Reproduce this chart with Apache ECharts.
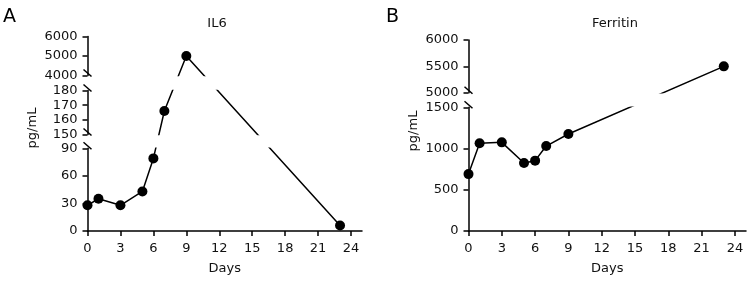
<!DOCTYPE html>
<html>
<head>
<meta charset="utf-8">
<script src="https://cdn.jsdelivr.net/npm/echarts@6/dist/echarts.min.js"></script>
<style>
  html, body { margin: 0; padding: 0; background: #fff; }
  #chart { width: 749px; height: 281px; }
</style>
</head>
<body>
<div id="chart"></div>
<script>
const chart = echarts.init(document.getElementById("chart"));

const FONT = '"DejaVu Sans", sans-serif';

// ==========================
// DATA
// ==========================

const days = [0, 1, 3, 5, 6, 7, 9, 23];
const il6 = [28, 35, 28, 43, 79, 166, 5000, 6];
const ferritin = [690, 1065, 1075, 825, 853, 1030, 1176, 5500];

const dayTicks = [0, 3, 6, 9, 12, 15, 18, 21, 24];

// broken y axis pieces, bottom to top: [min, max, interval]
const il6Pieces = [[0, 90, 30], [150, 180, 10], [4000, 6000, 1000]];
const ferritinPieces = [[0, 1500, 500], [5000, 6000, 500]];

// ==========================
// LAYOUT (pixels)
// ==========================

const panels = [
  {
    letter: "A", title: "IL6", values: il6, pieces: il6Pieces,
    left: 87.5, width: 274.5,
    bands: [[148.3, 231], [90.5, 134.5], [36.5, 75.5]],   // [top, bottom]
    titleX: 217, nameX: 33, nameY: 128, letterX: 3
  },
  {
    letter: "B", title: "Ferritin", values: ferritin, pieces: ferritinPieces,
    left: 468.5, width: 277.5,
    bands: [[107.3, 231], [40, 92.7]],
    titleX: 615, nameX: 414, nameY: 131, letterX: 386
  }
];

// value -> screen y, through the piece that holds it
function valueToY(v, p) {
  let k = p.pieces.findIndex(([lo, hi]) => v >= lo && v <= hi);
  if (k < 0) k = 0;
  const [lo, hi] = p.pieces[k];
  const [top, bottom] = p.bands[k];
  return bottom - (v - lo) / (hi - lo) * (bottom - top);
}

// screen y -> value on piece k's own scale (can fall outside, gets clipped)
function yToPiece(y, p, k) {
  const [lo, hi] = p.pieces[k];
  const [top, bottom] = p.bands[k];
  return lo + (bottom - y) / (bottom - top) * (hi - lo);
}

// ==========================
// BUILD OPTION
// ==========================

const grids = [], xAxes = [], yAxes = [], series = [], graphics = [];
const axisStyle = { color: "#000", width: 1.5 };

panels.forEach(p => {
  p.gridStart = grids.length;
  p.pieces.forEach(([lo, hi, step], k) => {
    const gi = grids.length;
    const [top, bottom] = p.bands[k];
    grids.push({
      left: p.left, top: top, width: p.width, height: bottom - top,
      containLabel: false, outerBoundsMode: "none"
    });

    xAxes.push({
      gridIndex: gi,
      type: "value",
      min: 0,
      max: 25,
      show: k === 0,
      name: k === 0 ? "Days" : "",
      nameLocation: "middle",
      nameGap: 31,
      nameTextStyle: { fontFamily: FONT, fontSize: 13, color: "#111" },
      axisLine: { lineStyle: axisStyle },
      axisTick: { length: 5, lineStyle: axisStyle, customValues: dayTicks },
      axisLabel: { fontFamily: FONT, fontSize: 13, color: "#111", margin: 11, customValues: dayTicks },
      splitLine: { show: false }
    });

    yAxes.push({
      gridIndex: gi,
      type: "value",
      min: lo,
      max: hi,
      interval: step,
      axisLine: { show: true, lineStyle: axisStyle },
      axisTick: { show: true, length: 5, lineStyle: axisStyle },
      axisLabel: {
        fontFamily: FONT, fontSize: 13, color: "#111", margin: 10,
        formatter: v => String(v)
      },
      splitLine: { show: false }
    });

    series.push({
      type: "line",
      xAxisIndex: gi,
      yAxisIndex: gi,
      clip: true,
      symbol: "circle",
      symbolSize: 10,
      itemStyle: { color: "#000" },
      lineStyle: { color: "#000", width: 1.5 },
      data: days.map((d, i) => [d, yToPiece(valueToY(p.values[i], p), p, k)])
    });
  });

  graphics.push(
    {
      type: "text", x: p.letterX, y: 8,
      style: { text: p.letter, font: `19px ${FONT}`, fill: "#000" }
    },
    {
      type: "text", x: p.titleX, y: 24,
      style: { text: p.title, font: `13px ${FONT}`, fill: "#111", textAlign: "center", textVerticalAlign: "middle" }
    },
    {
      type: "text", x: p.nameX, y: p.nameY, rotation: Math.PI / 2,
      style: { text: "pg/mL", font: `13px ${FONT}`, fill: "#111", textAlign: "center", textVerticalAlign: "middle" }
    }
  );
});

chart.setOption({
  animation: false,
  grid: grids,
  xAxis: xAxes,
  yAxis: yAxes,
  series: series,
  graphic: graphics
});

// ==========================
// BREAK MARKS on the y axis
// ==========================

panels.forEach(p => {
  p.pieces.forEach(([lo, hi], k) => {
    const gi = p.gridStart + k;
    const ends = [];
    if (k > 0) ends.push(lo);
    if (k < p.pieces.length - 1) ends.push(hi);
    ends.forEach(v => {
      const [px, py] = chart.convertToPixel({ gridIndex: gi }, [0, v]);
      graphics.push({
        type: "line",
        shape: { x1: px - 4, y1: py - 6, x2: px + 4, y2: py + 1 },
        style: { stroke: "#000", lineWidth: 1.5 }
      });
    });
  });
});

chart.setOption({ graphic: graphics });
</script>
</body>
</html>
